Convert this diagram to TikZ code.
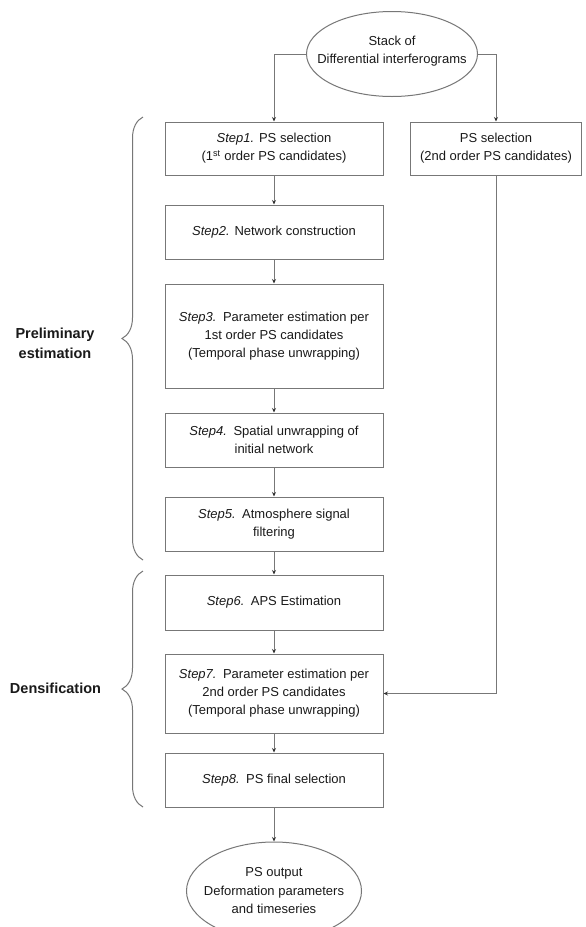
\documentclass[tikz,border=0pt]{standalone}
\usepackage{fontspec}
\setmainfont{Liberation Sans}
\usetikzlibrary{shapes.geometric,arrows.meta,decorations.pathreplacing}
\definecolor{linegray}{HTML}{777777}
\definecolor{tipgray}{HTML}{333333}
\definecolor{txt}{HTML}{1A1A1A}
\begin{document}
\begin{tikzpicture}[x=1pt,y=-1pt,
  stepbox/.style={draw=linegray, line width=1pt, minimum width=218pt, inner sep=0pt,
    align=center, font=\fontsize{13}{18}\selectfont, text=txt},
  ovalbox/.style={ellipse, draw=linegray, line width=1pt, inner sep=0pt},
  ovaltext/.style={align=center, font=\fontsize{13}{18.5}\selectfont, text=txt, inner sep=0pt},
  conn/.style={draw=linegray, line width=1pt, -{Stealth[length=4.5pt,width=4pt,color=tipgray]}},
  grouplabel/.style={align=center, font=\fontsize{14.5}{20}\bfseries\selectfont, text=txt, inner sep=0pt},
  groupbrace/.style={draw=linegray, line width=1pt, decorate, decoration={brace, amplitude=21pt}}
]
\clip (0,0) rectangle (586,927);
\fill[white] (0,0) rectangle (586,927);

% top ellipse
\node[ovalbox, minimum width=171pt, minimum height=85pt] (top) at (392,54) {};
\node[ovaltext] (toptext) at (392,51) {Stack of\\Differential interferograms};

% main column
\node[stepbox, minimum height=53pt] (b1) at (274,148.5) {\textit{Step1.} PS selection\\(1\textsuperscript{st} order PS candidates)};
\node[stepbox, minimum width=171pt, minimum height=53pt] (ps2) at (496,148.5) {PS selection\\(2nd order PS candidates)};
\node[stepbox, minimum height=54pt] (b2) at (274,232) {\textit{Step2.} Network construction};
\node[stepbox, minimum height=104pt] (b3) at (274,336) {\textit{Step3.}\enspace Parameter estimation per\\1st order PS candidates\\(Temporal phase unwrapping)};
\node[stepbox, minimum height=54pt] (b4) at (274,440) {\textit{Step4.}\enspace Spatial unwrapping of\\initial network};
\node[stepbox, minimum height=54pt] (b5) at (274,524) {\textit{Step5.}\enspace Atmosphere signal\\filtering};
\node[stepbox, minimum height=55pt] (b6) at (274,602.5) {\textit{Step6.}\enspace APS Estimation};
\node[stepbox, minimum height=79pt] (b7) at (274,693.5) {\textit{Step7.}\enspace Parameter estimation per\\2nd order PS candidates\\(Temporal phase unwrapping)};
\node[stepbox, minimum height=54pt] (b8) at (274,780) {\textit{Step8.}\enspace PS final selection};

% bottom ellipse
\node[ovalbox, minimum width=175pt, minimum height=98pt] (bot) at (274,891) {};
\node[ovaltext] (bottext) at (274,891) {PS output\\Deformation parameters\\and timeseries};

% connectors
\draw[conn] (top.west) -| (b1.north);
\draw[conn] (top.east) -| (ps2.north);
\draw[conn] (b1.south) -- (b2.north);
\draw[conn] (b2.south) -- (b3.north);
\draw[conn] (b3.south) -- (b4.north);
\draw[conn] (b4.south) -- (b5.north);
\draw[conn] (b5.south) -- (b6.north);
\draw[conn] (b6.south) -- (b7.north);
\draw[conn] (b7.south) -- (b8.north);
\draw[conn] (b8.south) -- (bot.north);
\draw[conn] (ps2.south) |- (b7.east);

% braces and group labels
\draw[groupbrace] (143,560) -- (143,117);
\draw[groupbrace] (143,807) -- (143,571);
\node[grouplabel] (prelim) at (55,343) {Preliminary\\estimation};
\node[grouplabel] (dens) at (55.5,688) {Densification};
\end{tikzpicture}
\end{document}
